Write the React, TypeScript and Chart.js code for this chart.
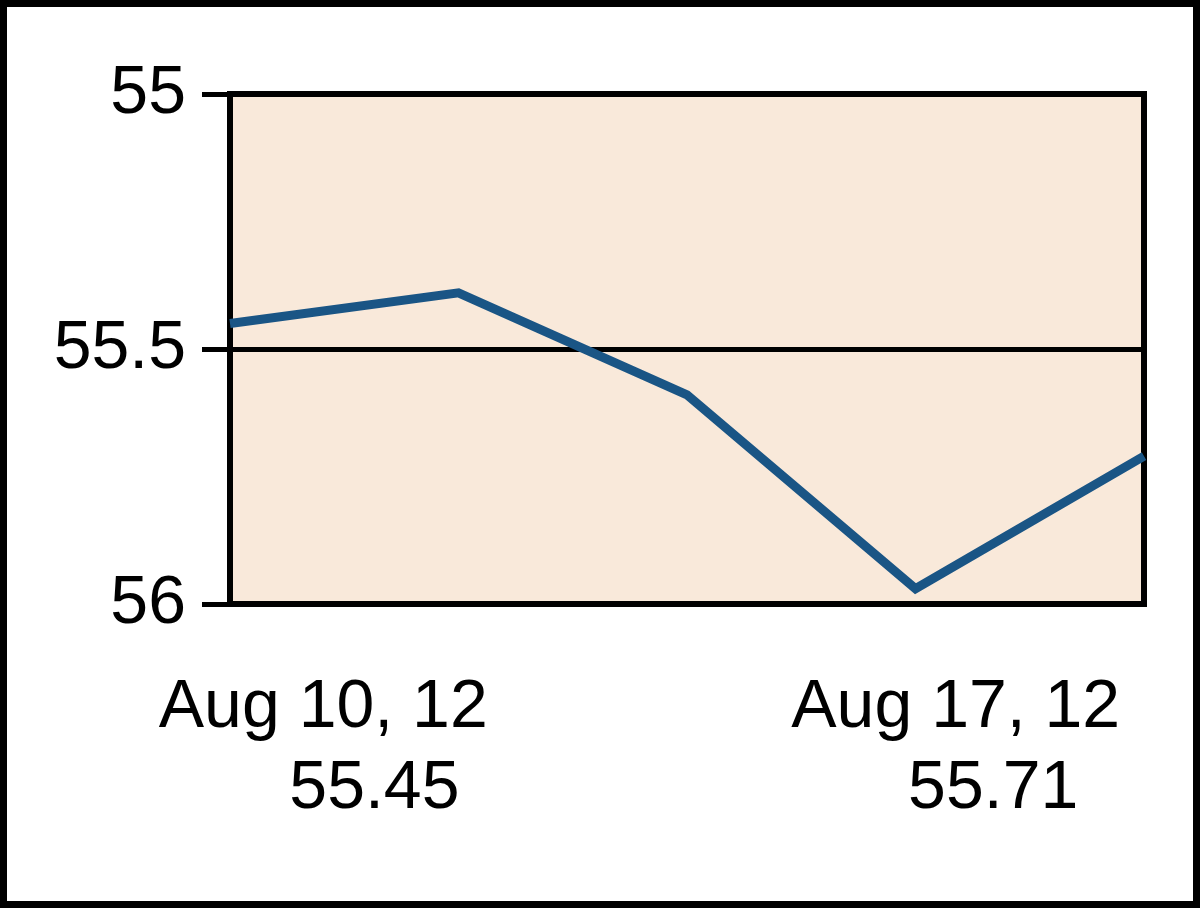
import React, { useEffect, useRef } from "react";
import { Chart, registerables } from "chart.js";

Chart.register(...registerables);

const categories = ["Aug 10, 12", "Aug 13, 12", "Aug 14, 12", "Aug 15, 12", "Aug 17, 12"];
const prices = [55.45, 55.39, 55.59, 55.97, 55.71];
const yTicks = [55, 55.5, 56];
const footerDates = ["Aug 10, 12", "Aug 17, 12"];

const FONT = "68px 'Liberation Sans', Arial, sans-serif";

const framePlugin = {
  id: "framePlugin",
  beforeDraw(chart: any) {
    const { ctx, chartArea, width, height } = chart;
    ctx.save();
    ctx.fillStyle = "#ffffff";
    ctx.fillRect(0, 0, width, height);
    ctx.fillStyle = "#F9E9DA";
    ctx.fillRect(chartArea.left, chartArea.top, chartArea.right - chartArea.left, chartArea.bottom - chartArea.top);
    ctx.restore();
  },
  beforeDatasetsDraw(chart: any) {
    const { ctx, chartArea } = chart;
    ctx.save();
    ctx.strokeStyle = "#000000";
    ctx.lineWidth = 6;
    ctx.strokeRect(chartArea.left, chartArea.top, chartArea.right - chartArea.left, chartArea.bottom - chartArea.top);
    ctx.restore();
  },
  afterDraw(chart: any) {
    const { ctx, chartArea, width, height } = chart;
    const w = chartArea.right - chartArea.left;
    ctx.save();
    ctx.fillStyle = "#000000";
    ctx.font = FONT;
    ctx.textAlign = "center";
    ctx.textBaseline = "alphabetic";
    const first = prices[0].toFixed(2);
    const last = prices[prices.length - 1].toFixed(2);
    ctx.fillText(footerDates[0], chartArea.left + w * 0.102, chartArea.bottom + 123);
    ctx.fillText(first, chartArea.left + w * 0.158, chartArea.bottom + 204);
    ctx.fillText(footerDates[1], chartArea.left + w * 0.794, chartArea.bottom + 123);
    ctx.fillText(last, chartArea.left + w * 0.835, chartArea.bottom + 204);
    ctx.strokeStyle = "#000000";
    ctx.lineWidth = 7;
    ctx.strokeRect(3.5, 3.5, width - 7, height - 7);
    ctx.restore();
  },
};

export default function App() {
  const ref = useRef<HTMLCanvasElement | null>(null);
  useEffect(() => {
    if (!ref.current) return;
    const chart = new Chart(ref.current, {
      type: "line",
      data: {
        labels: categories,
        datasets: [
          {
            data: prices,
            borderColor: "#1A5585",
            borderWidth: 9,
            pointRadius: 0,
            tension: 0,
            fill: false,
          },
        ],
      },
      options: {
        responsive: false,
        animation: false,
        events: [],
        layout: { padding: { left: 0, top: 94, right: 56, bottom: 304 } },
        plugins: { legend: { display: false }, tooltip: { enabled: false }, title: { display: false } },
        scales: {
          x: { display: false, offset: false },
          y: {
            reverse: true,
            min: 55,
            max: 56,
            afterBuildTicks: (scale: any) => {
              scale.ticks = yTicks.map((v) => ({ value: v }));
            },
            afterFit: (scale: any) => {
              scale.width = 230;
            },
            ticks: {
              color: "#000000",
              font: { family: "'Liberation Sans', Arial, sans-serif", size: 68 },
              padding: 16,
              callback: (v: any) => String(Number(v)),
            },
            grid: {
              color: "#000000",
              lineWidth: 5,
              tickLength: 28,
              drawOnChartArea: true,
            },
            border: { display: true, color: "#000000", width: 6 },
          },
        },
      },
      plugins: [framePlugin],
    });
    return () => chart.destroy();
  }, []);
  return (
    <div style={{ position: "absolute", left: 0, top: 0, width: 1200, height: 908 }}>
      <canvas ref={ref} width={1200} height={908} style={{ width: 1200, height: 908 }} />
    </div>
  );
}
